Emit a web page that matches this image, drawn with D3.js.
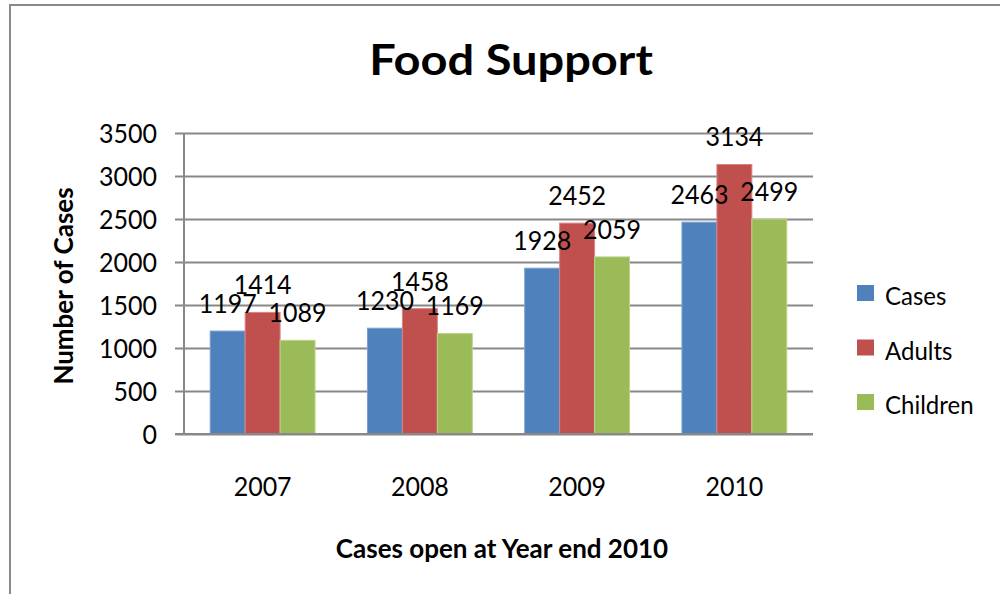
<!DOCTYPE html>
<html><head><meta charset="utf-8">
<script src="https://cdn.jsdelivr.net/npm/d3@7"></script>
<style>body{margin:0;background:#fff}svg{display:block}text{font-family:Lato,"Open Sans",sans-serif;fill:#000}</style>
</head><body><svg id="c" width="1000" height="594"></svg>
<script>
const categories = ["2007","2008","2009","2010"];
const seriesNames = ["Cases","Adults","Children"];
const cases = [1197,1230,1928,2463];
const adults = [1414,1458,2452,3134];
const children = [1089,1169,2059,2499];
const yTicks = [0,500,1000,1500,2000,2500,3000,3500];
const colors = ["#4F81BD","#C0504D","#9BBB59"];
const edges = ["#7BA0D4","#D98482","#B9D38A"];
const series = [cases, adults, children];

const SY = 1.04; // vertical stretch of regular text
const svg = d3.select("#c");
svg.append("rect").attr("x",10).attr("y",5).attr("width",1000).attr("height",600)
  .attr("fill","#fff").attr("stroke","#8a8a8a").attr("stroke-width",2);

const pL=184, pR=813, pT=133, pB=434;
const x = d3.scaleBand().domain(categories).range([pL,pR]).paddingInner(0).paddingOuter(0);
const y = d3.scaleLinear().domain([0,3500]).range([pB,pT]);
const bw = x.bandwidth()/4.5;
const x1 = d3.scaleBand().domain(seriesNames).range([0,bw*3]);

// gridlines + y ticks
const ya = d3.axisLeft(y).tickValues(yTicks).tickFormat(d3.format("d")).tickSize(-(pR-pL)).tickPadding(18);
const gy = svg.append("g").attr("transform",`translate(${pL},0)`).call(ya);
gy.select(".domain").remove();
gy.selectAll(".tick line").attr("stroke","#888").attr("stroke-width",2).attr("x1",-9);
gy.selectAll(".tick text").attr("font-size",25).attr("x",0).attr("y",0).attr("dy","0.36em")
  .attr("transform",`translate(-27,0) scale(1,${SY})`);
svg.append("line").attr("x1",pL).attr("x2",pL).attr("y1",pT).attr("y2",pB)
  .attr("stroke","#888").attr("stroke-width",2);

// bars
series.forEach((vals,si)=>{
  svg.append("g").selectAll("rect").data(vals).join("rect")
    .attr("x",(d,i)=>x(categories[i])+bw*0.75+x1(seriesNames[si]))
    .attr("y",d=>y(d)).attr("width",x1.bandwidth()).attr("height",d=>pB-y(d))
    .attr("fill",colors[si]).attr("stroke",edges[si]).attr("stroke-width",1);
});
// data labels
series.forEach((vals,si)=>{
  svg.append("g").selectAll("text").data(vals).join("text")
    .attr("transform",(d,i)=>`translate(${x(categories[i])+bw*0.75+x1(seriesNames[si])+x1.bandwidth()/2},${y(d)-18}) scale(1,${SY})`)
    .attr("text-anchor","middle").attr("font-size",25).text(d=>d);
});

// x axis labels
const xa = d3.axisBottom(x).tickSize(0).tickPadding(0);
const gx = svg.append("g").attr("transform",`translate(0,${pB})`).call(xa);
gx.select(".domain").remove();
gx.selectAll(".tick text").attr("font-size",25).attr("y",0).attr("dy",0)
  .attr("transform",`translate(0,62) scale(1,${SY})`);
svg.append("line").attr("x1",pL-9).attr("x2",pR).attr("y1",pB).attr("y2",pB)
  .attr("stroke","#888").attr("stroke-width",2);

// titles
svg.append("text").attr("transform","translate(511,75) scale(1,0.88)").attr("text-anchor","middle")
  .attr("font-size",47).attr("font-weight","bold").text("Food Support");
svg.append("text").attr("transform","translate(73,286) rotate(-90)").attr("text-anchor","middle")
  .attr("font-size",26).attr("font-weight","bold").text("Number of Cases");
svg.append("text").attr("x",502).attr("y",558).attr("text-anchor","middle")
  .attr("font-size",26).attr("font-weight","bold").text("Cases open at Year end 2010");

// legend
const lg = svg.append("g");
seriesNames.forEach((n,i)=>{
  lg.append("rect").attr("x",857).attr("y",285+i*54.5).attr("width",17).attr("height",16).attr("fill",colors[i]);
  lg.append("text").attr("transform",`translate(885,${305+i*54.5}) scale(1,1.05)`).attr("font-size",24).text(n);
});
</script></body></html>
